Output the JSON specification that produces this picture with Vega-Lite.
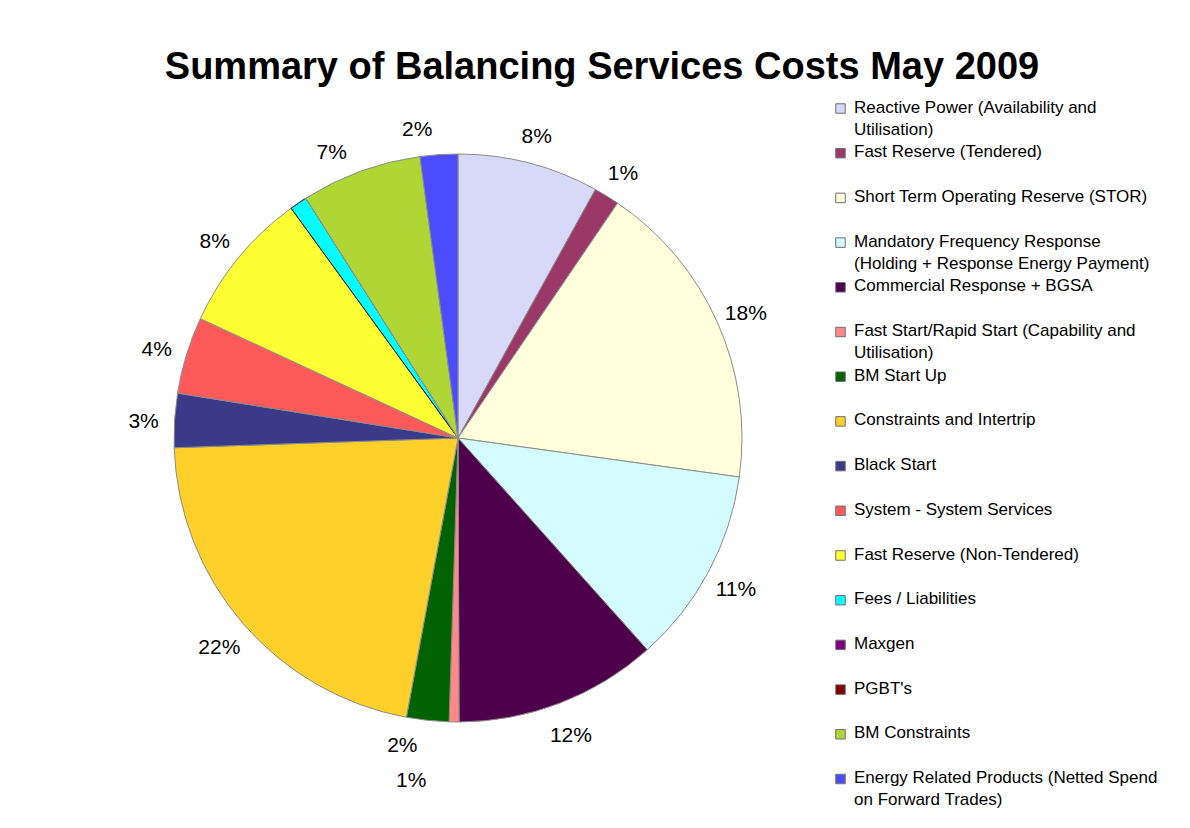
{
  "$schema": "https://vega.github.io/schema/vega-lite/v6.json",
  "width": 916,
  "height": 784,
  "autosize": {"type": "none"},
  "padding": {"left": 0, "top": 46, "right": 274, "bottom": 0},
  "background": "white",
  "view": {"stroke": null},
  "title": {
    "text": "Summary of Balancing Services Costs May 2009",
    "font": "Liberation Sans",
    "fontSize": 38,
    "fontWeight": "bold",
    "color": "black",
    "anchor": "middle",
    "frame": "group",
    "dx": 144,
    "dy": -9,
    "offset": -80,
    "baseline": "alphabetic"
  },
  "data": {
    "values": [
      {"idx": 1, "name": "Reactive Power (Availability and Utilisation)", "share": 0.0804},
      {"idx": 2, "name": "Fast Reserve (Tendered)", "share": 0.0146},
      {"idx": 3, "name": "Short Term Operating Reserve (STOR)", "share": 0.177},
      {"idx": 4, "name": "Mandatory Frequency Response (Holding + Response Energy Payment)", "share": 0.112},
      {"idx": 5, "name": "Commercial Response + BGSA", "share": 0.1155},
      {"idx": 6, "name": "Fast Start/Rapid Start (Capability and Utilisation)", "share": 0.0056},
      {"idx": 7, "name": "BM Start Up", "share": 0.0241},
      {"idx": 8, "name": "Constraints and Intertrip", "share": 0.2155},
      {"idx": 9, "name": "Black Start", "share": 0.0307},
      {"idx": 10, "name": "System - System Services", "share": 0.0438},
      {"idx": 11, "name": "Fast Reserve (Non-Tendered)", "share": 0.081},
      {"idx": 12, "name": "Fees / Liabilities", "share": 0.010},
      {"idx": 13, "name": "Maxgen", "share": 0},
      {"idx": 14, "name": "PGBT's", "share": 0},
      {"idx": 15, "name": "BM Constraints", "share": 0.0686},
      {"idx": 16, "name": "Energy Related Products (Netted Spend on Forward Trades)", "share": 0.0214}
    ]
  },
  "encoding": {
    "theta": {"field": "share", "type": "quantitative", "stack": true},
    "order": {"field": "idx", "type": "quantitative"}
  },
  "layer": [
    {
      "mark": {"type": "arc", "outerRadius": 284, "strokeWidth": 1},
      "encoding": {
        "color": {
          "field": "name",
          "type": "nominal",
          "sort": null,
          "scale": {
            "range": ["#D8D8F8", "#9A3868", "#FFFFDC", "#D4FBFD", "#4E004A", "#FF8888", "#006200", "#FFCF2A", "#3A3A88", "#FF5A5A", "#FFFF33", "#00FFFF", "#800080", "#800000", "#B0D636", "#4C4CFF"]
          },
          "legend": {
            "orient": "none",
            "legendX": 832,
            "legendY": 54,
            "title": null,
            "padding": 0,
            "symbolType": "square",
            "symbolSize": 90,
            "symbolStrokeColor": "#707070",
            "symbolStrokeWidth": 1,
            "symbolOpacity": 1,
            "labelFont": "Liberation Sans",
            "labelFontSize": 17,
            "labelColor": "black",
            "labelLimit": 400,
            "labelOffset": 5,
            "labelBaseline": "top",
            "rowPadding": 4.7,
            "gridAlign": "all",
            "labelExpr": "datum.label == 'Reactive Power (Availability and Utilisation)' ? ['Reactive Power (Availability and', 'Utilisation)'] : datum.label == 'Mandatory Frequency Response (Holding + Response Energy Payment)' ? ['Mandatory Frequency Response', '(Holding + Response Energy Payment)'] : datum.label == 'Fast Start/Rapid Start (Capability and Utilisation)' ? ['Fast Start/Rapid Start (Capability and', 'Utilisation)'] : datum.label == 'Energy Related Products (Netted Spend on Forward Trades)' ? ['Energy Related Products (Netted Spend', 'on Forward Trades)'] : datum.label",
            "encode": {
              "labels": {"update": {"dy": {"value": -9}, "lineHeight": {"value": 22}}}
            }
          }
        },
        "stroke": {
          "condition": {"test": "datum.name == 'Fees / Liabilities'", "value": "black"},
          "value": "#8C8C8C"
        }
      }
    },
    {
      "transform": [{"filter": "datum.share > 0 && datum.name != 'Fees / Liabilities'"}],
      "mark": {
        "type": "text",
        "radius": {"expr": "datum.share < 0.0099 ? 350 : 315"},
        "dx": {"expr": "datum.idx == 6 ? -42 : datum.idx == 7 ? -22 : 0"},
        "dy": {"expr": "datum.idx == 6 ? -7 : datum.idx == 7 ? -5 : 4"},
        "font": "Liberation Sans",
        "fontSize": 21,
        "color": "black",
        "align": "center",
        "baseline": "middle"
      },
      "encoding": {
        "text": {"field": "share", "type": "quantitative", "format": ".0%"}
      }
    }
  ]
}
